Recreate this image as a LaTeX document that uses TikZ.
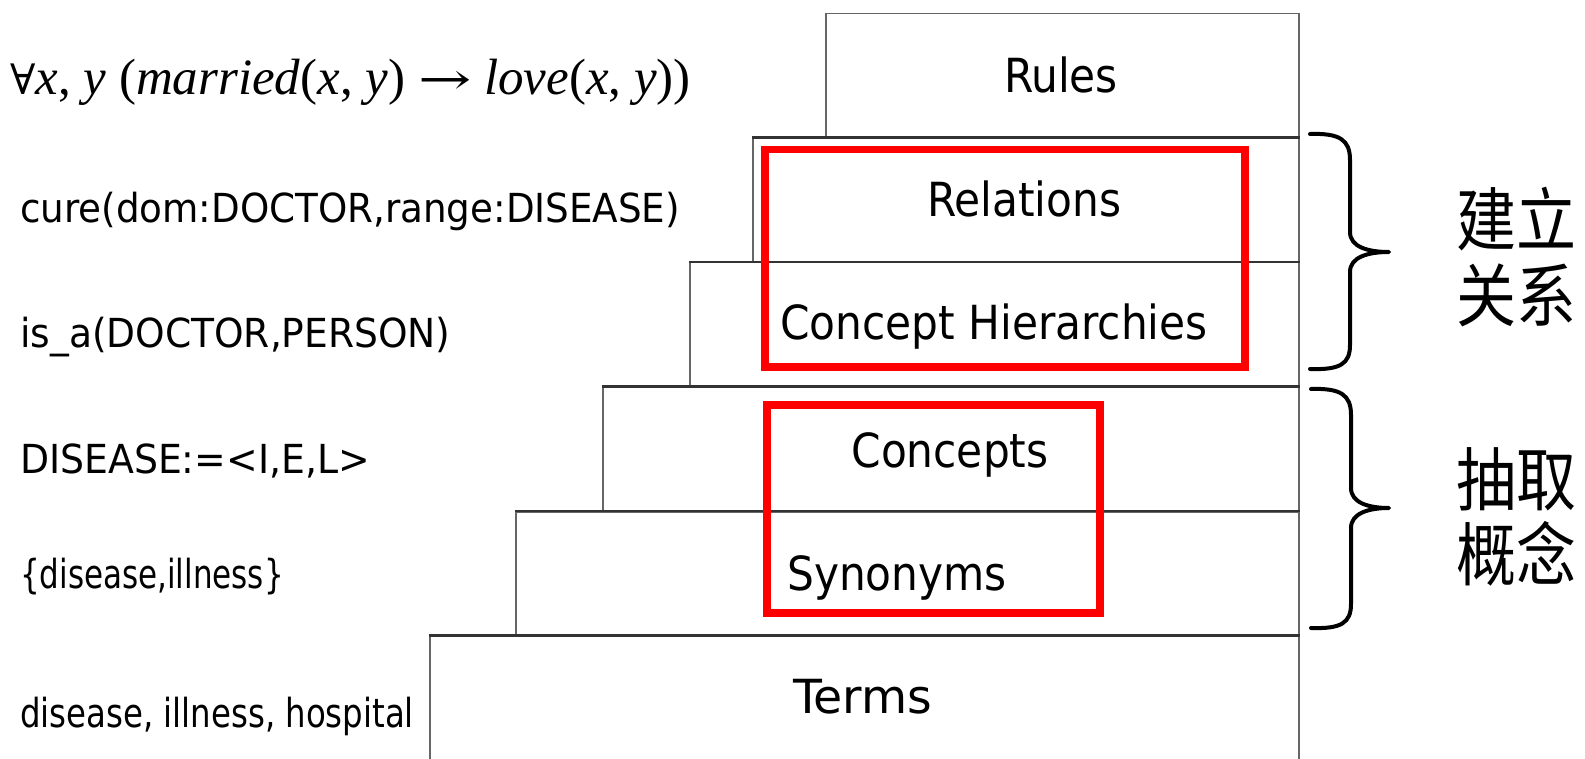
\documentclass[tikz,border=0pt]{standalone}
\usepackage{fontspec}
\setmainfont{DejaVu Sans Condensed}
\newfontfamily\serif{Liberation Serif}
\newfontfamily\symb{DejaVu Serif}
\newfontfamily\cjk{Noto Sans CJK SC}

\tikzset{
  layer/.style={draw=black!60, line width=1.5pt, inner sep=0pt, anchor=north west},
  ledge/.style={draw=black!80, line width=2.5pt},
  layertext/.style={anchor=base, inner sep=0pt, font=\fontsize{47}{50}\selectfont},
  example/.style={anchor=base west, inner sep=0pt, font=\fontsize{40}{44}\selectfont},
  focus/.style={draw=red, line width=7.3pt},
  brace/.style={draw=black, line width=4pt, line cap=round, line join=round},
  cn/.style={anchor=west, inner sep=0pt, font=\cjk\fontsize{60}{62}\selectfont}
}
\newcommand{\wide}[2]{\scalebox{#1}[1]{#2}}
\newcommand{\tall}[1]{\scalebox{1}[1.15]{#1}}

\begin{document}
\begin{tikzpicture}[x=1pt,y=-1pt]
\useasboundingbox (0,0) rectangle (1585,759);
\fill[white] (0,0) rectangle (1585,759);

% stacked layers, widest at the bottom
\node[layer, minimum width=473pt, minimum height=124.5pt] (rules) at (825,13) {};
\node[layer, minimum width=546pt, minimum height=124.5pt] (relations) at (752,137.5) {};
\node[layer, minimum width=609pt, minimum height=124.5pt] (hierarchies) at (689,262) {};
\node[layer, minimum width=696pt, minimum height=124.5pt] (concepts) at (602,386.5) {};
\node[layer, minimum width=783pt, minimum height=124.5pt] (synonyms) at (515,511) {};
\node[layer, minimum width=869pt, minimum height=130pt] (terms) at (429,635.5) {};
\foreach \l in {relations,hierarchies,concepts,synonyms,terms}
  \draw[ledge] (\l.north west) -- (\l.north east);

% layer names
\node[layertext] (rules-t) at (1061,93) {Rules};
\node[layertext] (relations-t) at (1024,217) {Relations};
\node[layertext] (hierarchies-t) at (994,340) {Concept Hierarchies};
\node[layertext] (concepts-t) at (950,467) {Concepts};
\node[layertext] (synonyms-t) at (897,590) {Synonyms};
\node[layertext] (terms-t) at (863,713) {\wide{1.12}{Terms}};

% highlighted groups
\draw[focus] (765,149.5) rectangle (1245,367);
\draw[focus] (767,405) rectangle (1100,613);

% examples for each layer
\node[anchor=base west, inner sep=0pt, font=\serif\fontsize{51}{56}\selectfont] (ex-rules) at (10,95)
  {{\symb\fontsize{42}{48}\selectfont ∀}\textit{x}, \textit{y} (\textit{married}(\textit{x}, \textit{y}) {\symb\fontsize{44}{48}\selectfont\wide{1.45}{→}} \textit{love}(\textit{x}, \textit{y}))};
\node[example] (ex-relations) at (20,223) {\wide{1.035}{cure(dom:DOCTOR,range:DISEASE)}};
\node[example] (ex-hierarchies) at (20,347) {\wide{1.044}{is\_a(DOCTOR,PERSON)}};
\node[example] (ex-concepts) at (20,473) {\wide{1.05}{DISEASE:=<I,E,L>}};
\node[example] (ex-synonyms) at (20,588) {\wide{0.86}{\{disease,illness\}}};
\node[example] (ex-terms) at (20,727) {\wide{0.9}{disease, illness, hospital}};

% braces and their captions
\draw[brace] (1310,134) .. controls (1340,133) and (1350,140) .. (1350,160)
  -- (1350,232) .. controls (1350,247) and (1368,252) .. (1389,252)
  .. controls (1368,252) and (1350,257) .. (1350,272)
  -- (1350,345) .. controls (1350,364) and (1340,370) .. (1310,369);
\draw[brace] (1311,389) .. controls (1341,388) and (1351,395) .. (1351,415)
  -- (1351,488) .. controls (1351,503) and (1369,508) .. (1389,508)
  .. controls (1369,508) and (1351,513) .. (1351,528)
  -- (1351,604) .. controls (1351,623) and (1341,629) .. (1311,628);

\node[cn] (build-a) at (1456,219) {\tall{建立}};
\node[cn] (build-b) at (1456,295) {\tall{关系}};
\node[cn] (extract-a) at (1456,479) {\tall{抽取}};
\node[cn] (extract-b) at (1456,554) {\tall{概念}};
\end{tikzpicture}
\end{document}
